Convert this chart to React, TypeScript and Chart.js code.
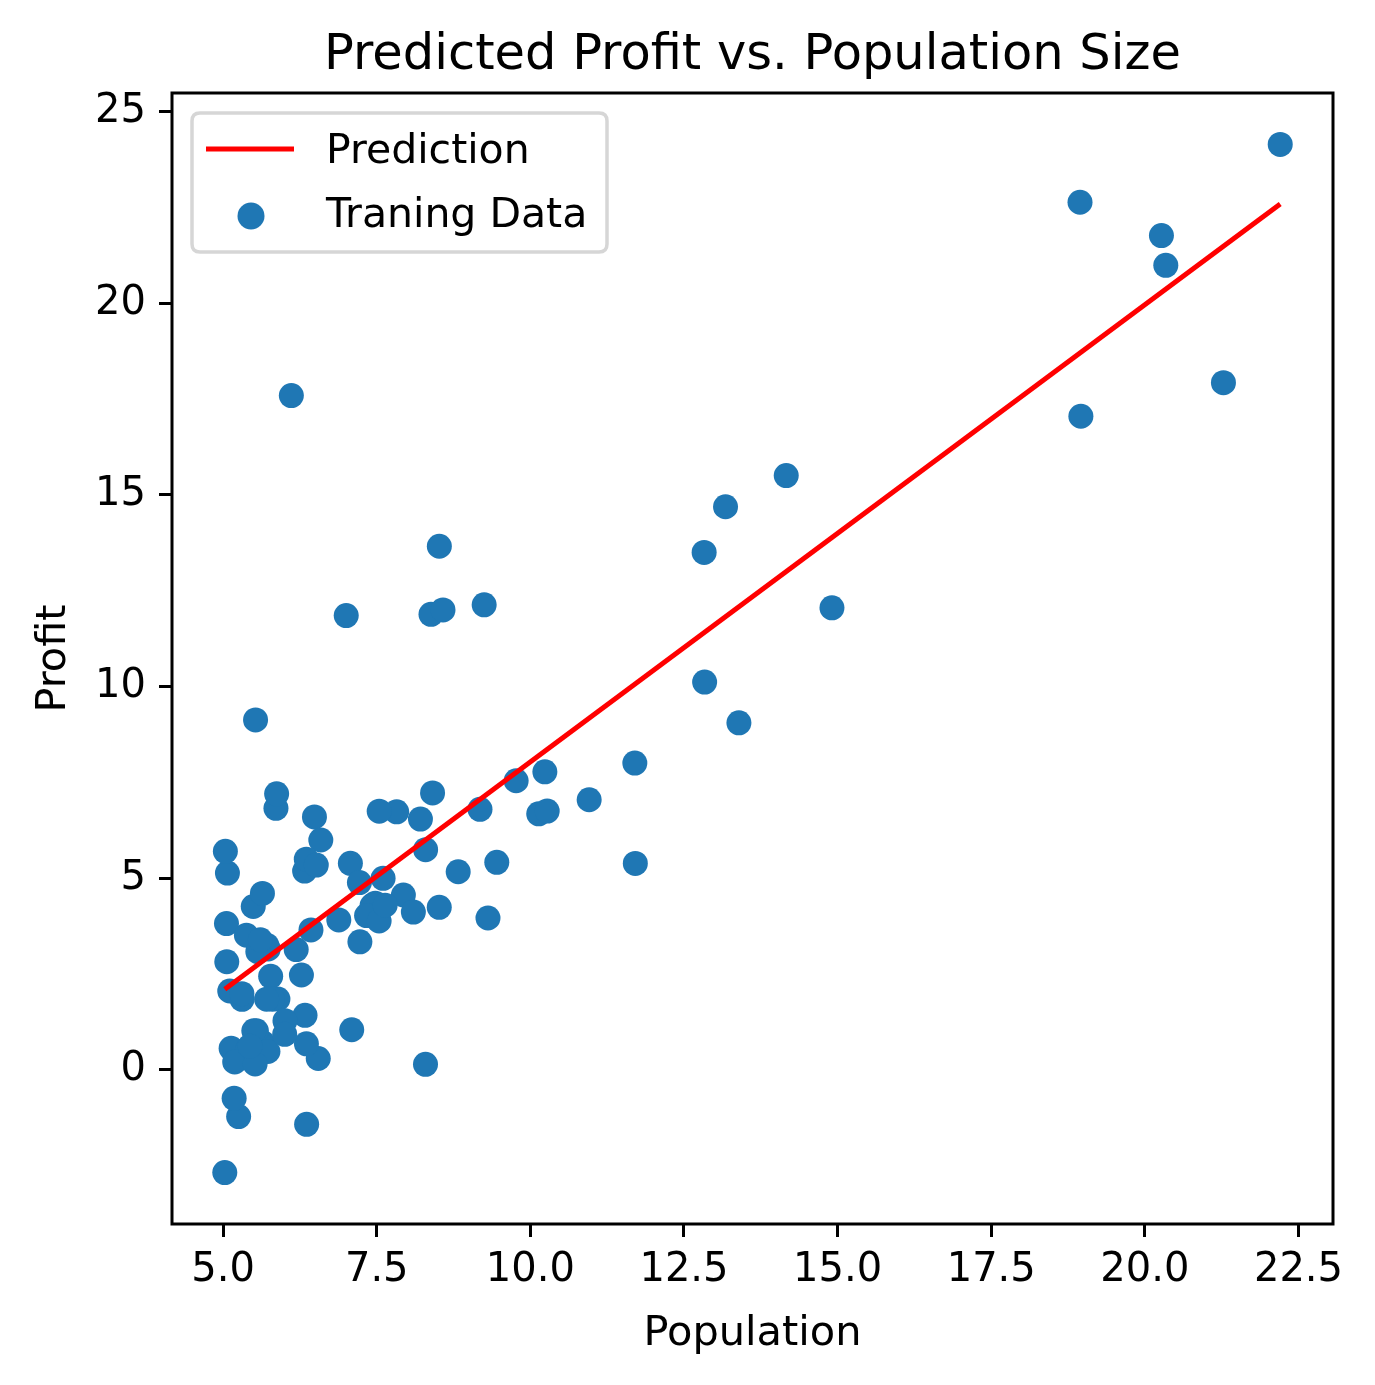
import React, { useEffect, useRef } from "react";
import { Chart, registerables } from "chart.js";

Chart.register(...registerables);

const populationX = [
  6.1101, 5.5277, 8.5186, 7.0032, 5.8598, 8.3829, 7.4764, 8.5781, 6.4862, 5.0546,
  5.7107, 14.164, 5.734, 8.4084, 5.6407, 5.3794, 6.3654, 5.1301, 6.4296, 7.0708,
  6.1891, 20.27, 5.4901, 6.3261, 5.5649, 18.945, 12.828, 10.957, 13.176, 22.203,
  5.2524, 6.5894, 9.2482, 5.8918, 8.2111, 7.9334, 8.0959, 5.6063, 12.836, 6.3534,
  5.4069, 6.8825, 11.708, 5.7737, 7.8247, 7.0931, 5.0702, 5.8014, 11.7, 5.5416,
  7.5402, 5.3077, 7.4239, 7.6031, 6.3328, 6.3589, 6.2742, 5.6397, 9.3102, 9.4536,
  8.8254, 5.1793, 21.279, 14.908, 18.959, 7.2182, 8.2951, 10.236, 5.4994, 20.341,
  10.136, 7.3345, 6.0062, 7.2259, 5.0269, 6.5479, 7.5386, 5.0365, 10.274, 5.1077,
  5.7292, 5.1884, 6.3557, 9.7687, 6.5159, 8.5172, 9.1802, 6.002, 5.5204, 5.0594,
  5.7077, 7.6366, 5.8707, 5.3054, 8.2934, 13.394, 5.4369,
];
const profitY = [
  17.592, 9.1302, 13.662, 11.854, 6.8233, 11.886, 4.3483, 12.0, 6.5987, 3.8166,
  3.2522, 15.505, 3.1551, 7.2258, 0.71618, 3.5129, 5.3048, 0.56077, 3.6518, 5.3893,
  3.1386, 21.767, 4.263, 5.1875, 3.0825, 22.638, 13.501, 7.0467, 14.692, 24.147,
  -1.22, 5.9966, 12.134, 1.8495, 6.5426, 4.5623, 4.1164, 3.3928, 10.117, 5.4974,
  0.55657, 3.9115, 5.3854, 2.4406, 6.7318, 1.0463, 5.1337, 1.844, 8.0043, 1.0179,
  6.7504, 1.8396, 4.2885, 4.9981, 1.4233, -1.4211, 2.4756, 4.6042, 3.9624, 5.4141,
  5.1694, -0.74279, 17.929, 12.054, 17.054, 4.8852, 5.7442, 7.7754, 1.0173, 20.992,
  6.6799, 4.0259, 1.2784, 3.3411, -2.6807, 0.29678, 3.8845, 5.7014, 6.7526, 2.0576,
  0.47953, 0.20421, 0.67861, 7.5435, 5.3436, 4.2415, 6.7981, 0.92695, 0.152, 2.8214,
  1.8451, 4.2959, 7.2029, 1.9869, 0.14454, 9.0551, 0.61705,
];
const predictionX = [5.0269, 22.203];
const predictionY = [2.1013, 22.5932];
const xTicks = [5, 7.5, 10, 12.5, 15, 17.5, 20, 22.5];
const yTicks = [0, 5, 10, 15, 20, 25];
const titleText = "Predicted Profit vs. Population Size";
const xLabel = "Population";
const yLabel = "Profit";
const lineLabel = "Prediction";
const scatterLabel = "Traning Data";

const FONT = "'DejaVu Sans', sans-serif";
const BLUE = "#1f77b4";
const RED = "#ff0000";

const decorPlugin = {
  id: "decor",
  afterDatasetsDraw(chart: any) {
    const { ctx, chartArea } = chart;
    ctx.save();
    ctx.strokeStyle = "#000";
    ctx.lineWidth = 3;
    ctx.strokeRect(chartArea.left, chartArea.top, chartArea.right - chartArea.left, chartArea.bottom - chartArea.top);
    ctx.restore();
  },
  afterDraw(chart: any) {
    const { ctx, chartArea } = chart;
    ctx.save();
    ctx.fillStyle = "#000";
    ctx.font = `49.5px ${FONT}`;
    ctx.textAlign = "center";
    ctx.textBaseline = "alphabetic";
    ctx.fillText(titleText, (chartArea.left + chartArea.right) / 2, 69);

    const bx = 192, by = 113, bw = 415, bh = 139, r = 8;
    ctx.beginPath();
    ctx.moveTo(bx + r, by);
    ctx.lineTo(bx + bw - r, by);
    ctx.quadraticCurveTo(bx + bw, by, bx + bw, by + r);
    ctx.lineTo(bx + bw, by + bh - r);
    ctx.quadraticCurveTo(bx + bw, by + bh, bx + bw - r, by + bh);
    ctx.lineTo(bx + r, by + bh);
    ctx.quadraticCurveTo(bx, by + bh, bx, by + bh - r);
    ctx.lineTo(bx, by + r);
    ctx.quadraticCurveTo(bx, by, bx + r, by);
    ctx.closePath();
    ctx.fillStyle = "rgba(255,255,255,0.8)";
    ctx.fill();
    ctx.strokeStyle = "#d6d6d6";
    ctx.lineWidth = 3.5;
    ctx.stroke();

    ctx.strokeStyle = RED;
    ctx.lineWidth = 5;
    ctx.beginPath();
    ctx.moveTo(206, 149);
    ctx.lineTo(294, 149);
    ctx.stroke();

    ctx.fillStyle = BLUE;
    ctx.beginPath();
    ctx.arc(251, 216, 13.5, 0, Math.PI * 2);
    ctx.fill();

    ctx.fillStyle = "#000";
    ctx.font = `41px ${FONT}`;
    ctx.textAlign = "left";
    ctx.fillText(lineLabel, 326, 163);
    ctx.fillText(scatterLabel, 326, 227);
    ctx.restore();
  },
};

export default function App() {
  const ref = useRef<HTMLCanvasElement | null>(null);
  useEffect(() => {
    if (!ref.current) return;
    const scatterData = populationX.map((x, i) => ({ x, y: profitY[i] }));
    const lineData = predictionX.map((x, i) => ({ x, y: predictionY[i] }));
    const chart = new Chart(ref.current, {
      type: "scatter",
      data: {
        datasets: [
          {
            type: "line",
            label: lineLabel,
            data: lineData,
            borderColor: RED,
            borderWidth: 5,
            pointRadius: 0,
            showLine: true,
            fill: false,
            order: 0,
          } as any,
          {
            type: "scatter",
            label: scatterLabel,
            data: scatterData,
            backgroundColor: BLUE,
            borderWidth: 0,
            pointRadius: 12.5,
            order: 1,
          },
        ],
      },
      options: {
        responsive: false,
        animation: false,
        devicePixelRatio: 1,
        layout: { padding: { top: 93, right: 42, left: 0, bottom: 0 } },
        plugins: {
          legend: { display: false },
          title: { display: false },
          tooltip: { enabled: false },
        },
        scales: {
          x: {
            type: "linear",
            min: 4.168,
            max: 23.062,
            afterFit: (s: any) => { s.height = 161; },
            afterBuildTicks: (s: any) => { s.ticks = xTicks.map((v) => ({ value: v })); },
            border: { display: false },
            grid: { drawOnChartArea: false, drawTicks: true, tickLength: 13, tickWidth: 3, tickColor: "#000" },
            ticks: {
              color: "#000",
              font: { family: FONT, size: 40 },
              padding: 10,
              maxRotation: 0,
              autoSkip: false,
              callback: (v: any) => Number(v).toFixed(1),
            },
            title: { display: true, text: xLabel, color: "#000", font: { family: FONT, size: 41.5 }, padding: { top: 0, bottom: 26 } },
          },
          y: {
            type: "linear",
            min: -4.022,
            max: 25.488,
            afterFit: (s: any) => { s.width = 172; },
            afterBuildTicks: (s: any) => { s.ticks = yTicks.map((v) => ({ value: v })); },
            border: { display: false },
            grid: { drawOnChartArea: false, drawTicks: true, tickLength: 13, tickWidth: 3, tickColor: "#000" },
            ticks: {
              color: "#000",
              font: { family: FONT, size: 40 },
              padding: 13,
              autoSkip: false,
              callback: (v: any) => String(v),
            },
            title: { display: true, text: yLabel, color: "#000", font: { family: FONT, size: 41.5 }, padding: { top: 29.5, bottom: 0 } },
          },
        },
      },
      plugins: [decorPlugin],
    });
    return () => chart.destroy();
  }, []);
  return (
    <div style={{ position: "absolute", left: 0, top: 0, width: 1375, height: 1385, background: "#fff" }}>
      <canvas ref={ref} width={1375} height={1385} style={{ width: 1375, height: 1385 }} />
    </div>
  );
}
